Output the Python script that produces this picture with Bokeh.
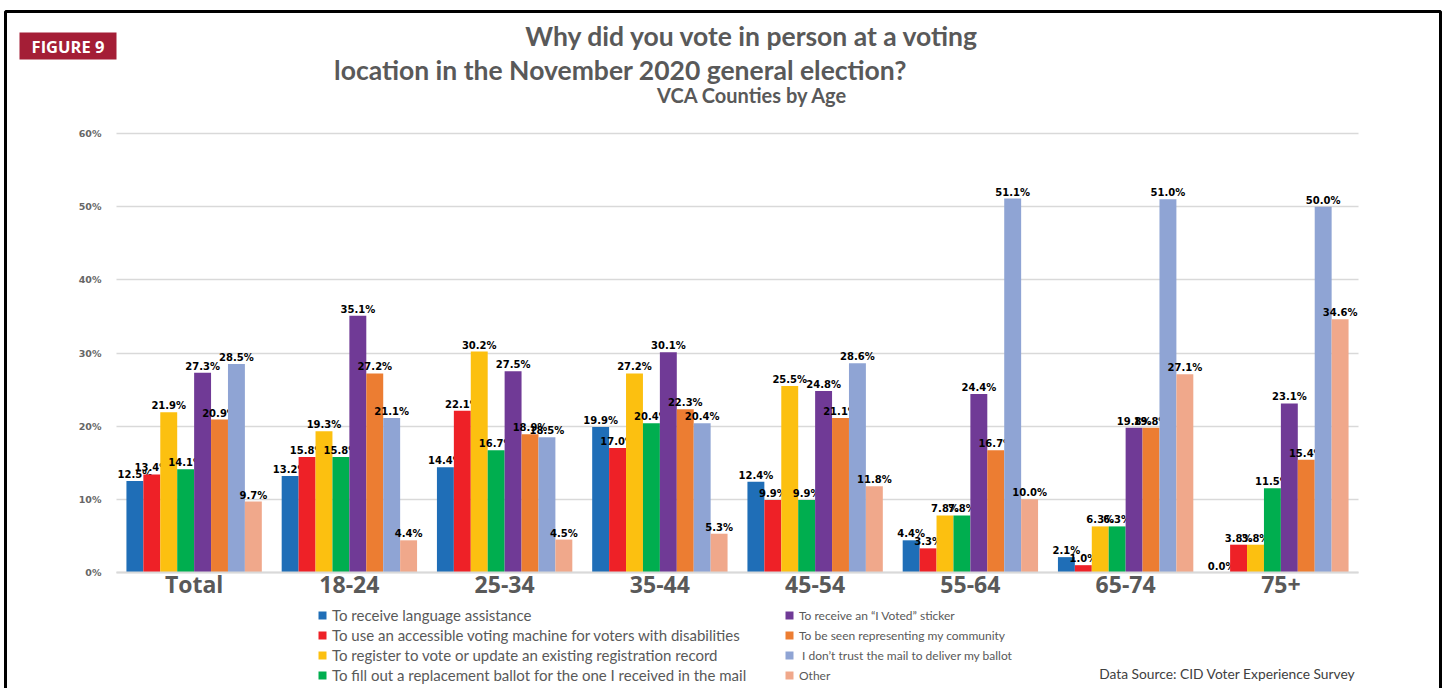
from bokeh.plotting import figure
from bokeh.models import (Range1d, Label, BoxAnnotation, Legend, LegendItem, Grid,
                          FixedTicker, PrintfTickFormatter, ColumnDataSource)
from bokeh.embed import file_html
from bokeh.resources import INLINE
from bokeh.core.properties import value

# ---------------- data ----------------
groups = ["Total", "18-24", "25-34", "35-44", "45-54", "55-64", "65-74", "75+"]

series_names = [
    "To receive language assistance",
    "To use an accessible voting machine for voters with disabilities",
    "To register to vote or update an existing registration record",
    "To fill out a replacement ballot for the one I received in the mail",
    "To receive an \u201cI Voted\u201d sticker",
    "To be seen representing my community",
    " I don\u2019t trust the mail to deliver my ballot",
    "Other",
]

language = [12.5, 13.2, 14.4, 19.9, 12.4, 4.4, 2.1, 0.0]
accessible = [13.4, 15.8, 22.1, 17.0, 9.9, 3.3, 1.0, 3.8]
register = [21.9, 19.3, 30.2, 27.2, 25.5, 7.8, 6.3, 3.8]
replacement = [14.1, 15.8, 16.7, 20.4, 9.9, 7.8, 6.3, 11.5]
sticker = [27.3, 35.1, 27.5, 30.1, 24.8, 24.4, 19.8, 23.1]
community = [20.9, 27.2, 18.9, 22.3, 21.1, 16.7, 19.8, 15.4]
distrust = [28.5, 21.1, 18.5, 20.4, 28.6, 51.1, 51.0, 50.0]
other = [9.7, 4.4, 4.5, 5.3, 11.8, 10.0, 27.1, 34.6]

series_values = [language, accessible, register, replacement, sticker, community, distrust, other]
colors = ["#1F6EB7", "#EE2127", "#FCC010", "#00AE4F", "#703A96", "#EC7D32", "#8FA4D4", "#F0A88B"]
y_ticks = [0, 10, 20, 30, 40, 50, 60]

# ---------------- layout constants (pixels) ----------------
W, H = 1447, 688
plot_left, plot_right = 116, 1358       # extent of the category axis on the page
plot_top, plot_bottom = 133, 572        # pixel rows of 60% and 0%
ymax = y_ticks[-1]
xunit = (plot_right - plot_left) / len(groups)
yunit = (plot_bottom - plot_top) / ymax

x_range = Range1d(-plot_left / xunit, (W - plot_left) / xunit)
y_range = Range1d(-(H - plot_bottom) / yunit, ymax + plot_top / yunit)

p = figure(x_range=x_range, y_range=y_range, width=W, height=H,
           output_backend="svg", toolbar_location=None,
           min_border=0, min_border_left=0, min_border_right=0,
           min_border_top=0, min_border_bottom=0)
p.outline_line_color = None
p.background_fill_color = "white"
p.border_fill_color = "white"

# ---------------- axes (fixed inside the frame) ----------------
centers = [g + 0.5 for g in range(len(groups))]
p.xaxis.fixed_location = 0
p.xaxis.bounds = (0, len(groups))
p.xaxis.ticker = FixedTicker(ticks=centers)
p.xaxis.major_label_overrides = {c: g for c, g in zip(centers, groups)}
p.xaxis.axis_line_color = "#d9d9d9"
p.xaxis.axis_line_width = 2
p.xaxis.major_tick_line_color = None
p.xaxis.minor_tick_line_color = None
p.xaxis.major_label_text_font = "Open Sans"
p.xaxis.major_label_text_font_size = "23px"
p.xaxis.major_label_text_font_style = "bold"
p.xaxis.major_label_text_color = "#595959"
p.xaxis.major_label_standoff = -11

p.yaxis.fixed_location = 0
p.yaxis.bounds = (0, ymax)
p.yaxis.ticker = FixedTicker(ticks=y_ticks)
p.yaxis.formatter = PrintfTickFormatter(format="%d%%")
p.yaxis.axis_line_color = None
p.yaxis.major_tick_line_color = None
p.yaxis.minor_tick_line_color = None
p.yaxis.major_label_text_font = "DejaVu Sans"
p.yaxis.major_label_text_font_size = "9.5px"
p.yaxis.major_label_text_font_style = "bold"
p.yaxis.major_label_text_color = "#666666"
p.yaxis.major_label_standoff = 9

p.xgrid.visible = False
p.ygrid.grid_line_color = "#d9d9d9"
p.ygrid.grid_line_width = 1.5
if "cross_bounds" in Grid.properties():
    p.ygrid.cross_bounds = (0, len(groups))
    p.ygrid.bounds = (0, ymax)
else:
    p.ygrid.visible = False
    p.segment(x0=[0] * len(y_ticks), x1=[len(groups)] * len(y_ticks), y0=y_ticks, y1=y_ticks,
              line_color="#d9d9d9", line_width=1.5, level="underlay")

# ---------------- bars + labels ----------------
bar_w = 0.109
renderers = []
for i, (vals, col) in enumerate(zip(series_values, colors)):
    off = (i - 3.5) * bar_w
    xs = [c + off for c in centers]
    src = ColumnDataSource(dict(x=xs, v=vals, t=[f"{v:.1f}%" for v in vals]))
    r = p.vbar(x="x", top="v", width=bar_w, source=src, fill_color=col, line_color=None)
    renderers.append(r)
    p.text(x="x", y="v", text="t", source=src,
           text_align="center", text_baseline="bottom", y_offset=-1,
           text_font=value("DejaVu Sans"), text_font_size="10px",
           text_font_style="bold", text_color="black")

# ---------------- decorations (screen units, origin bottom-left of canvas) ----------------
def sy(page_y):
    return H - page_y

border = BoxAnnotation(left=5, right=1440, top=sy(11), bottom=-20,
                       left_units="screen", right_units="screen",
                       top_units="screen", bottom_units="screen",
                       fill_alpha=0, line_color="black", line_alpha=1, line_width=3)
p.add_layout(border)

fig_box = BoxAnnotation(left=19, right=116, top=sy(32), bottom=sy(59),
                        left_units="screen", right_units="screen",
                        top_units="screen", bottom_units="screen",
                        fill_color="#A41E36", fill_alpha=1, line_color=None)
p.add_layout(fig_box)

p.add_layout(Label(x=67.5, y=sy(45.5), x_units="screen", y_units="screen", text="FIGURE 9",
                   text_align="center", text_baseline="middle", text_font="Open Sans",
                   text_font_size="16.5px", text_font_style="bold", text_color="white"))

p.add_layout(Label(x=752, y=sy(35.5), x_units="screen", y_units="screen",
                   text="Why did you vote in person at a voting",
                   text_align="center", text_baseline="middle", text_font="Lato",
                   text_font_size="26.5px", text_font_style="bold", text_color="#595959"))
p.add_layout(Label(x=620, y=sy(69.5), x_units="screen", y_units="screen",
                   text="location in the November 2020 general election?",
                   text_align="center", text_baseline="middle", text_font="Lato",
                   text_font_size="26.5px", text_font_style="bold", text_color="#595959"))
p.add_layout(Label(x=752, y=sy(94.5), x_units="screen", y_units="screen",
                   text="VCA Counties by Age",
                   text_align="center", text_baseline="middle", text_font="Lato",
                   text_font_size="20px", text_font_style="bold", text_color="#595959"))

p.add_layout(Label(x=1355, y=sy(673), x_units="screen", y_units="screen",
                   text="Data Source: CID Voter Experience Survey",
                   text_align="right", text_baseline="middle", text_font="Lato",
                   text_font_size="13.8px", text_color="#404040"))

def make_legend(idx, loc, size):
    return Legend(items=[LegendItem(label=series_names[i], renderers=[renderers[i]]) for i in idx],
                  location=loc, orientation="vertical", margin=0, padding=0,
                  border_line_color=None, background_fill_alpha=0,
                  glyph_width=10, glyph_height=10, label_standoff=5, spacing=0,
                  label_height=20, label_text_font="Lato", label_text_font_size=size,
                  label_text_color="#595959")

p.add_layout(make_legend([0, 1, 2, 3], (317, sy(685)), "15px"))
p.add_layout(make_legend([4, 5, 6, 7], (784, sy(685)), "12px"))

open("out.html", "w").write(file_html(p, INLINE))
